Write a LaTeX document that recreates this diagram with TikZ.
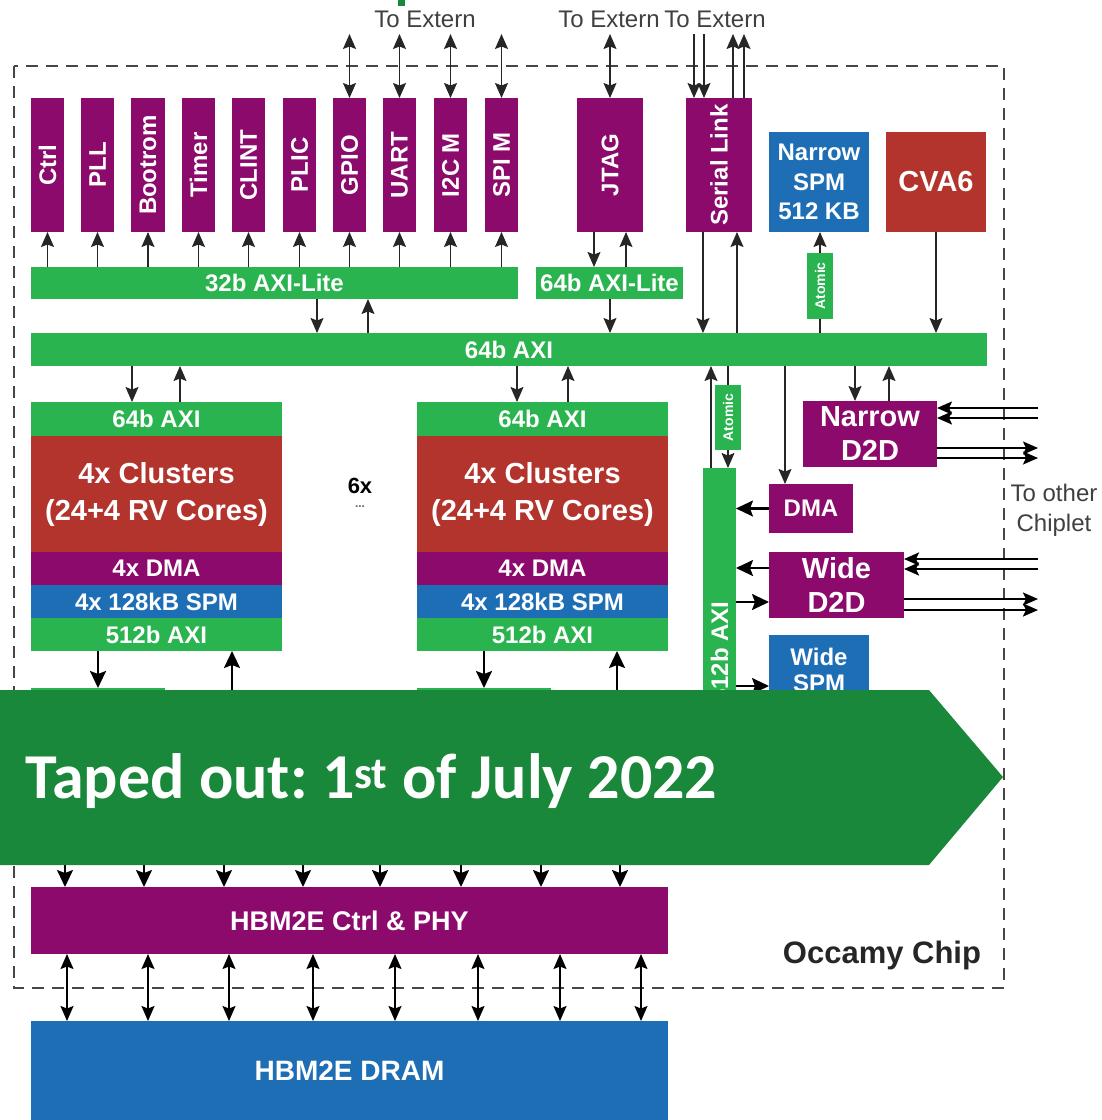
\documentclass[tikz,border=0pt]{standalone}
\usepackage{fontspec}
\setmainfont{Liberation Sans}
\newfontfamily\bannerfont{Carlito}
\usepackage{graphicx}
\usetikzlibrary{arrows.meta,calc}
\definecolor{cpurple}{RGB}{140,10,108}
\definecolor{cgreen}{RGB}{42,180,80}
\definecolor{cred}{RGB}{178,52,44}
\definecolor{cblue}{RGB}{30,110,182}
\definecolor{cbanner}{RGB}{26,136,58}
\definecolor{cborder}{RGB}{70,70,70}
\newcommand{\fsz}[2]{\fontsize{#1}{#2}\selectfont}
\newcommand{\vt}[1]{\rotatebox{90}{#1}}
\begin{document}
\begin{tikzpicture}[x=1pt,y=-1pt,
  blk/.style={inner sep=0pt, outer sep=0pt, anchor=north west, text=white, font=\bfseries\fsz{24}{28}, align=center},
  wh/.style 2 args={minimum width=#1pt, minimum height=#2pt},
  purplebox/.style={blk, fill=cpurple},
  greenbox/.style={blk, fill=cgreen},
  redbox/.style={blk, fill=cred},
  bluebox/.style={blk, fill=cblue},
  lbl/.style={inner sep=0pt, text=black!75, font=\fsz{24}{30}, align=center},
  arr/.style={-{Stealth[length=15pt,width=13pt,inset=2.5pt]}, line width=1.3pt, draw=black!85},
  bidir/.style={{Stealth[length=15pt,width=13pt,inset=2.5pt]}-{Stealth[length=15pt,width=13pt,inset=2.5pt]}, line width=1.6pt, draw=black},
  bigarr/.style={-{Stealth[length=17pt,width=16pt,inset=3pt]}, line width=2.2pt, draw=black},
  linkarr/.style={-{Stealth[length=15pt,width=13pt,inset=3pt]}, line width=1.8pt, draw=black},
  plain/.style={line width=1.3pt, draw=black!85}
]
\useasboundingbox (0,0) rectangle (1102,1120);
\fill[white] (0,0) rectangle (1102,1120);

% chip border
\draw[cborder, line width=1.5pt, dash pattern=on 12pt off 8pt] (14,66) rectangle (1004,988);

% fragment of title
\fill[cbanner] (398,0) rectangle (405,6);

% labels to extern
\coordinate (extY) at (0,34);
\node[lbl] (ext1) at (425,19) {To Extern};
\node[lbl] (ext2) at (609,19) {To Extern};
\node[lbl] (ext3) at (715,19) {To Extern};

% peripherals
\node[purplebox,wh={33}{134}] (ctrl) at (31,98) {\vt{Ctrl}};
\node[purplebox,wh={33}{134}] (pll) at (81,98) {\vt{PLL}};
\node[purplebox,wh={34}{134}] (bootrom) at (131,98) {\vt{Bootrom}};
\node[purplebox,wh={33}{134}] (timer) at (182,98) {\vt{Timer}};
\node[purplebox,wh={33}{134}] (clint) at (232,98) {\vt{CLINT}};
\node[purplebox,wh={33}{134}] (plic) at (283,98) {\vt{PLIC}};
\node[purplebox,wh={33}{134}] (gpio) at (333,98) {\vt{GPIO}};
\node[purplebox,wh={33}{134}] (uart) at (383,98) {\vt{UART}};
\node[purplebox,wh={33}{134}] (i2c) at (434,98) {\vt{I2C M}};
\node[purplebox,wh={33}{134}] (spi) at (485,98) {\vt{SPI M}};
\node[purplebox,wh={66}{134}] (jtag) at (577,98) {\vt{JTAG}};
\node[purplebox,wh={66}{134}] (ser) at (686,98) {\vt{Serial Link}};
\node[bluebox,wh={100}{100},font=\bfseries\fsz{24}{29.5}] (nspm) at (769,132) {Narrow\\SPM\\512 KB};
\node[redbox,wh={100}{100},font=\bfseries\fsz{29}{34}] (cva6) at (886,132) {CVA6};

% buses
\node[greenbox,wh={487}{32}] (axl32) at (31,267) {32b AXI-Lite};
\node[greenbox,wh={147}{32}] (axl64) at (536,267) {64b AXI-Lite};
\node[greenbox,wh={26}{66},font=\bfseries\fsz{14}{16}] (atom1) at (807,253) {\vt{Atomic}};
\node[greenbox,wh={956}{33}] (axi) at (31,333) {64b AXI};

% cluster groups
\node[greenbox,wh={251}{34}] (c1axi) at (31,402) {64b AXI};
\node[redbox,wh={251}{116},font=\bfseries\fsz{29}{37}] (c1cl) at (31,436) {4x Clusters\\(24+4 RV Cores)};
\node[purplebox,wh={251}{33}] (c1dma) at (31,552) {4x DMA};
\node[bluebox,wh={251}{33}] (c1spm) at (31,585) {4x 128kB SPM};
\node[greenbox,wh={251}{33}] (c1w) at (31,618) {512b AXI};
\node[greenbox,wh={134}{80}] (c1low) at (31,688) {};

\node[greenbox,wh={251}{34}] (c2axi) at (417,402) {64b AXI};
\node[redbox,wh={251}{116},font=\bfseries\fsz{29}{37}] (c2cl) at (417,436) {4x Clusters\\(24+4 RV Cores)};
\node[purplebox,wh={251}{33}] (c2dma) at (417,552) {4x DMA};
\node[bluebox,wh={251}{33}] (c2spm) at (417,585) {4x 128kB SPM};
\node[greenbox,wh={251}{33}] (c2w) at (417,618) {512b AXI};
\node[greenbox,wh={134}{80}] (c2low) at (417,688) {};

\node[inner sep=0pt, font=\bfseries\fsz{22}{24}] (six) at (360,486) {6x};
\node[inner sep=0pt, font=\bfseries\fsz{12}{12}, text=black!60] (dots) at (360,507) {...};

% right side
\node[greenbox,wh={33}{390}] (sbar) at (703,468) {};
\node[inner sep=0pt, text=white, font=\bfseries\fsz{24}{28}, rotate=90] (sbart) at (719.5,652) {512b AXI};
\node[greenbox,wh={26}{65},font=\bfseries\fsz{14}{16}] (atom2) at (715,385) {\vt{Atomic}};
\node[purplebox,wh={134}{66},font=\bfseries\fsz{29}{34}] (ndd) at (803,401) {Narrow\\D2D};
\node[purplebox,wh={84}{49}] (dma) at (769,484) {DMA};
\node[purplebox,wh={135}{66},font=\bfseries\fsz{29}{34}] (wdd) at (769,552) {Wide\\D2D};
\node[bluebox,wh={100}{70},font=\bfseries\fsz{24}{26}] (wspm) at (769,635) {Wide\\SPM};
\node[lbl] (toc) at (1054,510) {To other\\Chiplet};
\coordinate (rx) at (1038,0);

% HBM
\node[purplebox,wh={637}{67},font=\bfseries\fsz{27}{30}] (hctrl) at (31,887) {HBM2E Ctrl \& PHY};
\node[bluebox,wh={637}{99},font=\bfseries\fsz{28}{30}] (hdram) at (31,1021) {HBM2E DRAM};
\node[inner sep=0pt, font=\bfseries\fsz{31}{34}, text=black!85] (occ) at (882,955) {Occamy Chip};

% ---- connectors ----
\foreach \n in {gpio,uart,i2c,spi,jtag}
  \draw[bidir,line width=1.3pt,draw=black!85] (\n.north) -- (\n.north |- extY);
\draw[arr] (694,0 |- extY) -- (ser.north -| 694,0);
\draw[arr] (704,0 |- extY) -- (ser.north -| 704,0);
\draw[arr] (ser.north -| 733,0) -- (733,0 |- extY);
\draw[arr] (ser.north -| 744,0) -- (744,0 |- extY);

\foreach \n in {ctrl,pll,bootrom,timer,clint,plic,gpio,uart,i2c,spi}
  \draw[arr] (\n.south |- axl32.north) -- (\n.south);

\draw[arr] (axl32.south -| 317,0) -- (axi.north -| 317,0);
\draw[arr] (axi.north -| 368,0) -- (axl32.south -| 368,0);
\draw[arr] (jtag.south -| 594,0) -- (axl64.north -| 594,0);
\draw[arr] (axl64.north -| 626,0) -- (jtag.south -| 626,0);
\draw[arr] (axl64.south -| 610,0) -- (axi.north -| 610,0);
\draw[arr] (ser.south -| 703,0) -- (axi.north -| 703,0);
\draw[arr] (axi.north -| 737,0) -- (ser.south -| 737,0);
\draw[arr] (atom1.north) -- (nspm.south -| atom1.north);
\draw[plain] (axi.north -| atom1.south) -- (atom1.south);
\draw[arr] (cva6.south) -- (axi.north -| cva6.south);

\draw[arr] (axi.south -| 132,0) -- (c1axi.north -| 132,0);
\draw[arr] (c1axi.north -| 180,0) -- (axi.south -| 180,0);
\draw[arr] (axi.south -| 517,0) -- (c2axi.north -| 517,0);
\draw[arr] (c2axi.north -| 568,0) -- (axi.south -| 568,0);

\coordinate (lowY) at (0,720);
\draw[bigarr] (c1w.south -| 98,0) -- (c1low.north -| 98,0);
\draw[bigarr] (lowY -| 232,0) -- (c1w.south -| 232,0);
\draw[bigarr] (c2w.south -| 484,0) -- (c2low.north -| 484,0);
\draw[bigarr] (lowY -| 617,0) -- (c2w.south -| 617,0);

\draw[arr] (sbar.north -| 711,0) -- (axi.south -| 711,0);
\draw[plain] (axi.south -| atom2.north) -- (atom2.north);
\draw[arr] (atom2.south) -- (sbar.north -| atom2.south);
\draw[arr] (axi.south -| 785,0) -- (dma.north -| 785,0);
\draw[arr] (axi.south -| 855,0) -- (ndd.north -| 855,0);
\draw[arr] (ndd.north -| 889,0) -- (axi.south -| 889,0);

\draw[bigarr] (dma.west) -- (sbar.east |- dma.west);
\draw[bigarr] (wdd.west |- 0,568) -- (sbar.east |- 0,568);
\draw[bigarr] (sbar.east |- 0,602) -- (wdd.west |- 0,602);
\draw[bigarr] (sbar.east |- 0,686) -- (wspm.west |- 0,686);

\draw[linkarr] (rx |- 0,408) -- (ndd.east |- 0,408);
\draw[linkarr] (rx |- 0,418) -- (ndd.east |- 0,418);
\draw[linkarr] (ndd.east |- 0,448) -- (rx |- 0,448);
\draw[linkarr] (ndd.east |- 0,458) -- (rx |- 0,458);
\draw[linkarr,line width=2.2pt] (rx |- 0,559) -- (wdd.east |- 0,559);
\draw[linkarr,line width=2.2pt] (rx |- 0,569) -- (wdd.east |- 0,569);
\draw[linkarr,line width=2.2pt] (wdd.east |- 0,599) -- (rx |- 0,599);
\draw[linkarr,line width=2.2pt] (wdd.east |- 0,610) -- (rx |- 0,610);

\coordinate (banY) at (0,855);
\foreach \x in {65,144,224,303,380,461,541,620}
  \draw[bigarr,line width=1.8pt] (banY -| \x,0) -- (hctrl.north -| \x,0);
\foreach \x in {67,148,229,313,395,478,560,641}
  \draw[bidir] (hctrl.south -| \x,0) -- (hdram.north -| \x,0);

% banner
\fill[cbanner] (0,690) -- (929,690) -- (1003,777) -- (929,865) -- (0,865) -- cycle;
\node[anchor=base west, inner sep=0pt, text=white, font=\bannerfont\bfseries\frenchspacing\fsz{64}{70}] (bant) at (25,798) {Taped out: 1\textsuperscript{st} of July 2022};
\end{tikzpicture}
\end{document}
